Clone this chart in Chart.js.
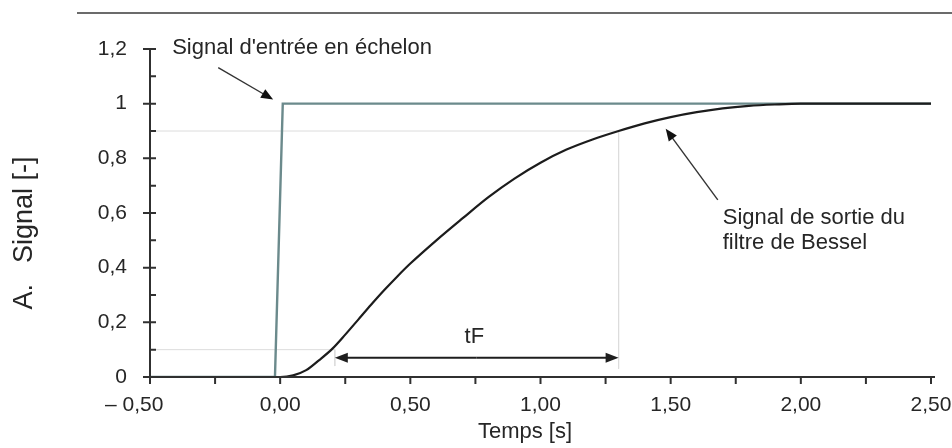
<!DOCTYPE html>
<html>
<head>
<meta charset="utf-8">
<script src="https://cdn.jsdelivr.net/npm/chart.js@4/dist/chart.umd.min.js"></script>
<style>
  html, body { margin: 0; padding: 0; background: #ffffff; }
  #wrap { width: 952px; height: 448px; position: relative; }
</style>
</head>
<body>
<div id="wrap"><canvas id="c" width="952" height="448"></canvas></div>
<script>
// ---- data ----
const stepTime   = [-0.5, -0.02, 0.01, 2.5];
const stepSignal = [0, 0, 1, 1];

const besselTime   = [-0.5, 0.0, 0.05, 0.1, 0.15, 0.2, 0.25, 0.3, 0.35, 0.4, 0.45, 0.5, 0.6, 0.7, 0.8, 0.9, 1.0, 1.1, 1.2, 1.3, 1.4, 1.5, 1.6, 1.7, 1.8, 1.9, 2.0, 2.5];
const besselSignal = [0, 0, 0.006, 0.025, 0.062, 0.103, 0.155, 0.21, 0.265, 0.318, 0.368, 0.415, 0.5, 0.58, 0.658, 0.726, 0.784, 0.832, 0.869, 0.9, 0.928, 0.951, 0.969, 0.983, 0.992, 0.997, 1.0, 1.0];

const xTickValues = [-0.5, 0, 0.5, 1, 1.5, 2, 2.5];
const xMinorValues = [-0.25, 0.25, 0.75, 1.25, 1.75, 2.25];
const yTickValues = [0, 0.2, 0.4, 0.6, 0.8, 1, 1.2];
const yMinorValues = [0.1, 0.3, 0.5, 0.7, 0.9, 1.1];

// rise time markers: 10 % and 90 % levels
const riseStart = 0.21;   // time at 10 %
const riseEnd   = 1.3;    // time at 90 %
const levelLow  = 0.1;
const levelHigh = 0.9;
const tfArrowLevel = 0.07;

const guideHighTime   = [-0.5, riseEnd, riseEnd];
const guideHighSignal = [levelHigh, levelHigh, 0.03];
const guideLowTime    = [-0.5, riseStart, riseStart];
const guideLowSignal  = [levelLow, levelLow, 0.04];

const labels = {
  input: "Signal d'entrée en échelon",
  output: ["Signal de sortie du", "filtre de Bessel"],
  tf: "tF",
  xTitle: "Temps [s]",
  yTitle: "A.\u2002 Signal [-]"
};

const toPts = (xs, ys) => xs.map((x, i) => ({ x: x, y: ys[i] }));
const fmt = v => {
  const s = Math.abs(v).toFixed(2).replace('.', ',');
  return v < 0 ? '\u2013 ' + s + '\u2002\u2002\u2002' : s;
};
const fmtY = v => {
  if (Math.abs(v) < 1e-9) return '0';
  if (Math.abs(v - 1) < 1e-9) return '1';
  return String(Math.round(v * 10) / 10).replace('.', ',');
};

const FONT = "'Liberation Sans', Arial, Helvetica, sans-serif";
const TXT = '#262626';

function arrow(ctx, x1, y1, x2, y2, len, half) {
  const a = Math.atan2(y2 - y1, x2 - x1);
  ctx.beginPath();
  ctx.moveTo(x1, y1);
  ctx.lineTo(x2 - Math.cos(a) * len * 0.8, y2 - Math.sin(a) * len * 0.8);
  ctx.stroke();
  ctx.beginPath();
  ctx.moveTo(x2, y2);
  ctx.lineTo(x2 - Math.cos(a) * len - Math.sin(a) * half, y2 - Math.sin(a) * len + Math.cos(a) * half);
  ctx.lineTo(x2 - Math.cos(a) * len + Math.sin(a) * half, y2 - Math.sin(a) * len - Math.cos(a) * half);
  ctx.closePath();
  ctx.fill();
}

const decor = {
  id: 'decor',
  beforeDraw(chart) {
    const ctx = chart.ctx;
    ctx.save();
    ctx.fillStyle = '#fff';
    ctx.fillRect(0, 0, chart.width, chart.height);
    // top rule
    ctx.strokeStyle = '#6b6b6b';
    ctx.lineWidth = 2;
    ctx.beginPath();
    ctx.moveTo(77, 13);
    ctx.lineTo(952, 13);
    ctx.stroke();
    ctx.restore();
  },
  afterDatasetsDraw(chart) {
    const ctx = chart.ctx;
    const xs = chart.scales.x, ys = chart.scales.y;
    const X = v => xs.getPixelForValue(v), Y = v => ys.getPixelForValue(v);
    const ca = chart.chartArea;
    ctx.save();
    // axes
    ctx.strokeStyle = '#303030';
    ctx.lineWidth = 2;
    ctx.beginPath();
    ctx.moveTo(ca.left - 7, ca.bottom);
    ctx.lineTo(ca.right + 4, ca.bottom);
    ctx.moveTo(ca.left, ca.top);
    ctx.lineTo(ca.left, ca.bottom + 7);
    ctx.stroke();
    // y ticks
    ctx.beginPath();
    yTickValues.forEach(v => { ctx.moveTo(ca.left - 7, Y(v)); ctx.lineTo(ca.left + 6, Y(v)); });
    yMinorValues.forEach(v => { ctx.moveTo(ca.left, Y(v)); ctx.lineTo(ca.left + 6, Y(v)); });
    // x ticks
    xTickValues.concat(xMinorValues).forEach(v => { ctx.moveTo(X(v), ca.bottom); ctx.lineTo(X(v), ca.bottom + 7); });
    ctx.stroke();

    // tF double arrow
    ctx.strokeStyle = '#1e1e1e';
    ctx.fillStyle = '#1e1e1e';
    ctx.lineWidth = 2;
    const ay = Y(tfArrowLevel);
    const mid = (X(riseStart) + X(riseEnd)) / 2;
    arrow(ctx, mid, ay, X(riseStart), ay, 13, 5);
    arrow(ctx, mid, ay, X(riseEnd), ay, 13, 5);

    // annotation arrows
    ctx.strokeStyle = '#333';
    ctx.fillStyle = '#111';
    ctx.lineWidth = 1.4;
    arrow(ctx, X(-0.238), Y(1.132), X(-0.027), Y(1.015), 12, 5);
    arrow(ctx, X(1.681), Y(0.648), X(1.481), Y(0.908), 12, 5);

    // texts
    ctx.fillStyle = TXT;
    ctx.textBaseline = 'middle';
    ctx.font = '22px ' + FONT;
    ctx.textAlign = 'left';
    ctx.fillText(labels.input, X(-0.415), Y(1.205));
    ctx.fillText(labels.output[0], X(1.70), Y(0.582));
    ctx.fillText(labels.output[1], X(1.70), Y(0.491));
    ctx.textAlign = 'center';
    ctx.fillText(labels.tf, X(0.746), Y(0.147));

    // axis titles
    ctx.font = '22px ' + FONT;
    ctx.fillText(labels.xTitle, 525, 432);
    ctx.save();
    ctx.translate(25, 233);
    ctx.rotate(-Math.PI / 2);
    ctx.font = '27px ' + FONT;
    ctx.fillText(labels.yTitle, 0, 0);
    ctx.restore();
    ctx.restore();
  }
};

new Chart(document.getElementById('c'), {
  type: 'line',
  data: {
    datasets: [
      { data: toPts(besselTime, besselSignal), borderColor: '#1c1c1c', borderWidth: 2.2, cubicInterpolationMode: 'monotone', pointRadius: 0, order: 1 },
      { data: toPts(stepTime, stepSignal), borderColor: '#6b8a8c', borderWidth: 2.4, tension: 0, pointRadius: 0, order: 2 },
      { data: toPts(guideHighTime, guideHighSignal), borderColor: '#dcdcdc', borderWidth: 1, tension: 0, pointRadius: 0, order: 3 },
      { data: toPts(guideLowTime, guideLowSignal), borderColor: '#dcdcdc', borderWidth: 1, tension: 0, pointRadius: 0, order: 3 }
    ]
  },
  options: {
    responsive: false,
    animation: false,
    devicePixelRatio: 1,
    layout: { padding: { left: 0, right: 21, top: 49, bottom: 0 } },
    plugins: { legend: { display: false }, tooltip: { enabled: false } },
    scales: {
      x: {
        type: 'linear', min: -0.5, max: 2.5,
        afterBuildTicks: s => { s.ticks = xTickValues.map(v => ({ value: v })); },
        afterFit: s => { s.height = 71; s.paddingLeft = 0; s.paddingRight = 0; },
        grid: { display: false, drawTicks: false },
        border: { display: false },
        ticks: { callback: v => fmt(v), autoSkip: false, maxRotation: 0, padding: 16, color: TXT, font: { family: FONT, size: 21 } }
      },
      y: {
        type: 'linear', min: 0, max: 1.2,
        afterBuildTicks: s => { s.ticks = yTickValues.map(v => ({ value: v })); },
        afterFit: s => { s.width = 150; s.paddingTop = 0; s.paddingBottom = 0; },
        grid: { display: false, drawTicks: false },
        border: { display: false },
        ticks: { callback: v => fmtY(v), autoSkip: false, padding: 23, color: TXT, font: { family: FONT, size: 21 } }
      }
    }
  },
  plugins: [decor]
});
</script>
</body>
</html>
